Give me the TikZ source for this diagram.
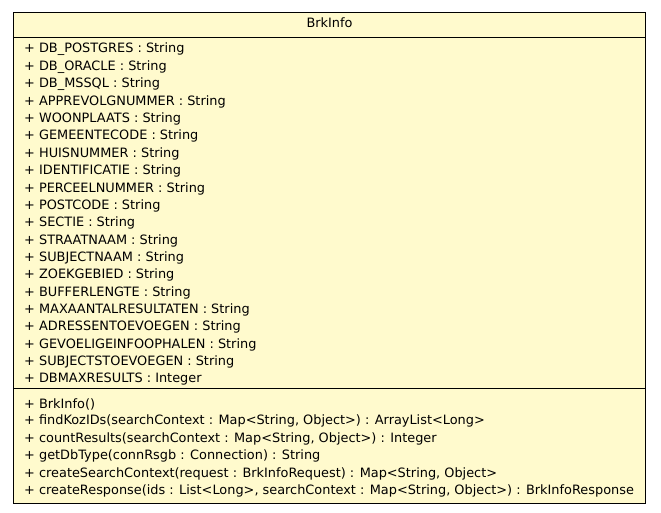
\documentclass[tikz,border=0pt]{standalone}
\usepackage{fontspec}
\setmainfont{DejaVu Sans}
\begin{document}
\begin{tikzpicture}[x=1pt,y=-1pt,
  classbox/.style={draw=black,line width=1pt,fill=boxfill},
  member/.style={anchor=west,inner sep=0pt,font=\fontsize{12.88}{14}\selectfont},
  title/.style={inner sep=0pt,font=\fontsize{12.88}{14}\selectfont}]
\definecolor{boxfill}{RGB}{255,250,205}
\useasboundingbox (0,0) rectangle (661,513);
% class frame and compartment separators
\draw[classbox] (13.5,12.5) rectangle (645.5,503.5);
\draw[line width=1pt] (13.5,37.5) -- (645.5,37.5);
\draw[line width=1pt] (13.5,388.5) -- (645.5,388.5);
\node[title] (name) at (329.5,23) {BrkInfo};
% attributes
\foreach \t [count=\i from 0] in {
  {+ DB\_POSTGRES : String},
  {+ DB\_ORACLE : String},
  {+ DB\_MSSQL : String},
  {+ APPREVOLGNUMMER : String},
  {+ WOONPLAATS : String},
  {+ GEMEENTECODE : String},
  {+ HUISNUMMER : String},
  {+ IDENTIFICATIE : String},
  {+ PERCEELNUMMER : String},
  {+ POSTCODE : String},
  {+ SECTIE : String},
  {+ STRAATNAAM : String},
  {+ SUBJECTNAAM : String},
  {+ ZOEKGEBIED : String},
  {+ BUFFERLENGTE : String},
  {+ MAXAANTALRESULTATEN : String},
  {+ ADRESSENTOEVOEGEN : String},
  {+ GEVOELIGEINFOOPHALEN : String},
  {+ SUBJECTSTOEVOEGEN : String},
  {+ DBMAXRESULTS : Integer}}
  \node[member] (attr\i) at (24,{49.5+\i*17.37}) {\t};
% operations
\foreach \t [count=\i from 0] in {
  {+ BrkInfo()},
  {+ findKozIDs(searchContext : Map<String, Object>) : ArrayList<Long>},
  {+ countResults(searchContext : Map<String, Object>) : Integer},
  {+ getDbType(connRsgb : Connection) : String},
  {+ createSearchContext(request : BrkInfoRequest) : Map<String, Object>},
  {+ createResponse(ids : List<Long>, searchContext : Map<String, Object>) : BrkInfoResponse}}
  \node[member] (op\i) at (24,{404+\i*17.4}) {\t};
\end{tikzpicture}
\end{document}
